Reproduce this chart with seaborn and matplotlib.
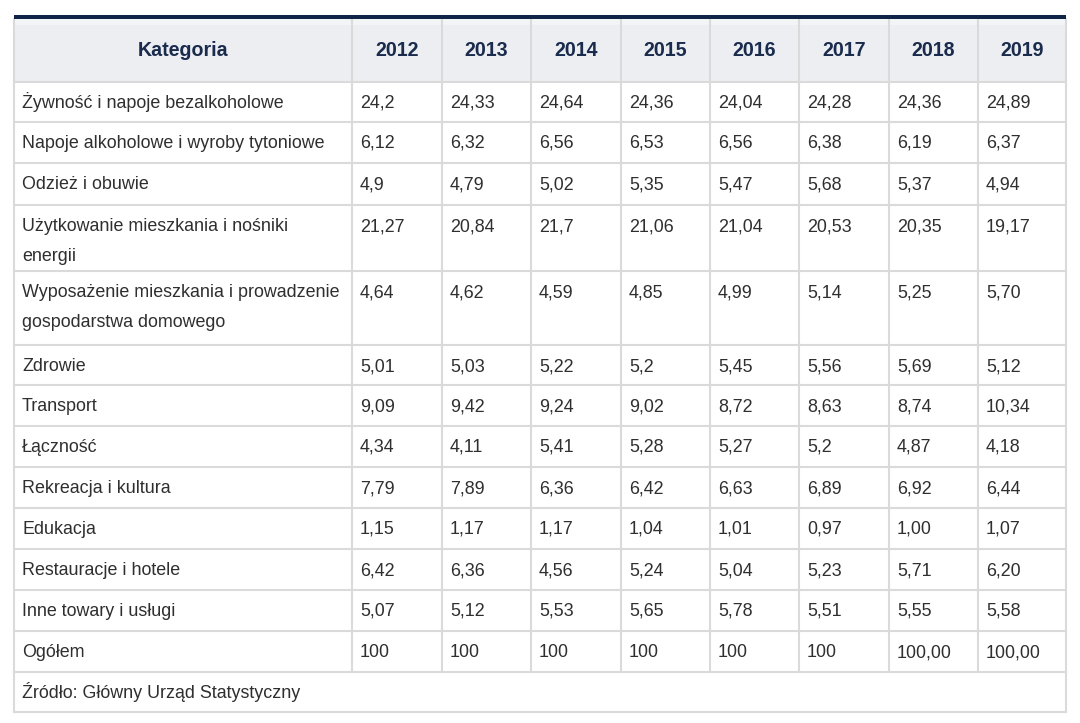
import matplotlib
matplotlib.use("Agg")
import matplotlib.pyplot as plt
from matplotlib.patches import Rectangle
import seaborn as sns

# ---------------- data ----------------
header_label = "Kategoria"
years = ["2012", "2013", "2014", "2015", "2016", "2017", "2018", "2019"]
categories = [
    "Żywność i napoje bezalkoholowe",
    "Napoje alkoholowe i wyroby tytoniowe",
    "Odzież i obuwie",
    "Użytkowanie mieszkania i nośniki\nenergii",
    "Wyposażenie mieszkania i prowadzenie\ngospodarstwa domowego",
    "Zdrowie",
    "Transport",
    "Łączność",
    "Rekreacja i kultura",
    "Edukacja",
    "Restauracje i hotele",
    "Inne towary i usługi",
    "Ogółem",
]
v2012 = ["24,2", "6,12", "4,9", "21,27", "4,64", "5,01", "9,09", "4,34", "7,79", "1,15", "6,42", "5,07", "100"]
v2013 = ["24,33", "6,32", "4,79", "20,84", "4,62", "5,03", "9,42", "4,11", "7,89", "1,17", "6,36", "5,12", "100"]
v2014 = ["24,64", "6,56", "5,02", "21,7", "4,59", "5,22", "9,24", "5,41", "6,36", "1,17", "4,56", "5,53", "100"]
v2015 = ["24,36", "6,53", "5,35", "21,06", "4,85", "5,2", "9,02", "5,28", "6,42", "1,04", "5,24", "5,65", "100"]
v2016 = ["24,04", "6,56", "5,47", "21,04", "4,99", "5,45", "8,72", "5,27", "6,63", "1,01", "5,04", "5,78", "100"]
v2017 = ["24,28", "6,38", "5,68", "20,53", "5,14", "5,56", "8,63", "5,2", "6,89", "0,97", "5,23", "5,51", "100"]
v2018 = ["24,36", "6,19", "5,37", "20,35", "5,25", "5,69", "8,74", "4,87", "6,92", "1,00", "5,71", "5,55", "100,00"]
v2019 = ["24,89", "6,37", "4,94", "19,17", "5,70", "5,12", "10,34", "4,18", "6,44", "1,07", "6,20", "5,58", "100,00"]
source_note = "Źródło: Główny Urząd Statystyczny"

columns = [v2012, v2013, v2014, v2015, v2016, v2017, v2018, v2019]

# ---------------- layout (pixels) ----------------
W, H = 1080, 723
col_edges = [14, 352, 442, 531, 621, 710, 799, 889, 978, 1066]
top_bar = (15, 19)
header_bottom = 82
row_edges = [82, 122, 163, 205, 271, 345, 385, 426, 467, 508, 549, 590, 631, 672, 712]
line_gap = 30

sns.set_theme(style="white")
plt.rcParams["font.family"] = ["Liberation Sans", "DejaVu Sans"]

fig = plt.figure(figsize=(W / 100, H / 100), dpi=100)
ax = fig.add_axes([0, 0, 1, 1])
ax.set_xlim(0, W)
ax.set_ylim(H, 0)
ax.axis("off")

grid_c = "#dadada"
text_c = "#2f2f2f"
head_c = "#1a2b4d"
navy = "#0f2447"

# header background
ax.add_patch(Rectangle((col_edges[0], top_bar[1]), col_edges[-1] - col_edges[0],
                       header_bottom - top_bar[1], facecolor="#eceef1", edgecolor="none", zorder=1))
ax.add_patch(Rectangle((col_edges[0], top_bar[1]), col_edges[-1] - col_edges[0],
                       6, facecolor="#f3f4f6", edgecolor="none", zorder=1))
# top navy bar
ax.add_patch(Rectangle((col_edges[0], top_bar[0]), col_edges[-1] - col_edges[0],
                       top_bar[1] - top_bar[0], facecolor=navy, edgecolor="none", zorder=3))

# horizontal grid lines
for y in row_edges:
    ax.plot([col_edges[0], col_edges[-1]], [y, y], color=grid_c, lw=1.5, zorder=2)
# vertical lines (data rows + header only, source row spans full width)
for x in col_edges:
    if x in (col_edges[0], col_edges[-1]):
        ax.plot([x, x], [top_bar[1], row_edges[-1]], color=grid_c, lw=1.5, zorder=2)
    else:
        ax.plot([x, x], [top_bar[1], row_edges[-2]], color=grid_c, lw=1.5, zorder=2)

# header texts
hy = (top_bar[1] + header_bottom) / 2 + 5.5
ax.text((col_edges[0] + col_edges[1]) / 2, hy, header_label, ha="center", va="baseline",
        fontsize=14.1, fontweight="bold", color=head_c, zorder=4)
for i, yr in enumerate(years):
    ax.text((col_edges[i + 1] + col_edges[i + 2]) / 2, hy, yr, ha="center", va="baseline",
            fontsize=14.1, fontweight="bold", color=head_c, zorder=4)

# body
fs = 12.9
for r, cat in enumerate(categories):
    top, bot = row_edges[r], row_edges[r + 1]
    first_base = top + 20 + 6
    lines = cat.split("\n")
    for k, ln in enumerate(lines):
        ax.text(col_edges[0] + 8, first_base + k * line_gap, ln, ha="left", va="baseline",
                fontsize=fs, color=text_c, zorder=4)
    for c, vals in enumerate(columns):
        ax.text(col_edges[c + 1] + 8, first_base, vals[r], ha="left", va="baseline",
                fontsize=fs, color=text_c, zorder=4)

# source row
ax.text(col_edges[0] + 8, row_edges[-2] + 20 + 6, source_note, ha="left", va="baseline",
        fontsize=fs, color=text_c, zorder=4)

fig.savefig("out.png", dpi=100, facecolor="white")
